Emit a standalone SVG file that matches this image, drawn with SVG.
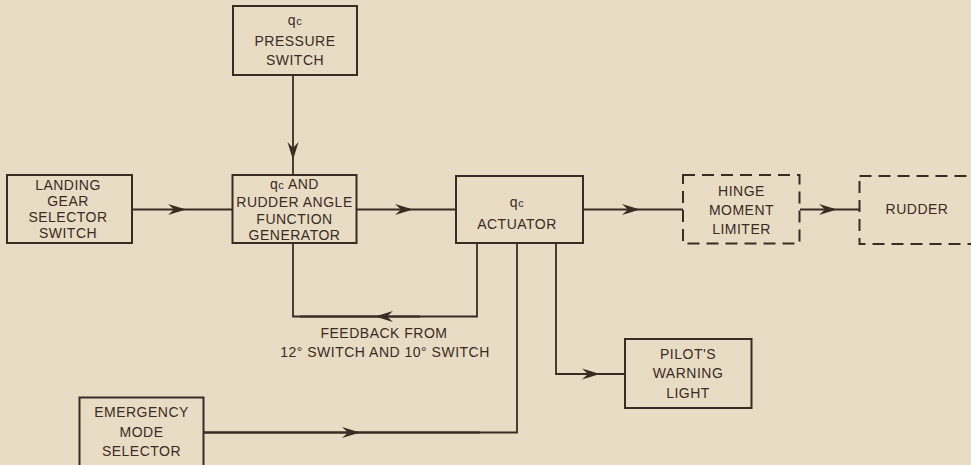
<svg xmlns="http://www.w3.org/2000/svg" width="971" height="465" viewBox="0 0 971 465">
<defs>
<marker id="ah" markerWidth="20" markerHeight="12" viewBox="-19 -6 20 12" refX="0" refY="0" orient="auto" markerUnits="userSpaceOnUse">
<path d="M0,0 L-18,-5.5 L-12,0 L-18,5.5 Z" fill="#3b2b22"/>
</marker>
</defs>
<style>
.box{fill:none;stroke:#3b2b22;stroke-width:2}
.dash{fill:none;stroke:#3b2b22;stroke-width:2;stroke-dasharray:12 7}
.ln{fill:none;stroke:#3b2b22;stroke-width:1.8}
.arr{fill:none;stroke:#3b2b22;stroke-width:1.8;marker-mid:url(#ah)}
text{font-family:"Liberation Sans",Arial,sans-serif;font-size:14px;fill:#3b2b22;text-anchor:middle;letter-spacing:0.5px}
.s{font-size:11px}
</style>
<rect width="971" height="465" fill="#e8dcc5"/>
<g id="connectors">
<path class="arr" d="M293,75 L293,160 L293,175"/>
<path class="arr" d="M132,209.5 L186,209.5 L232,209.5"/>
<path class="arr" d="M357,209.5 L413,209.5 L456,209.5"/>
<path class="arr" d="M583,209.5 L640,209.5 L683,209.5"/>
<path class="arr" d="M800,209.5 L837,209.5 L859,209.5"/>
<polyline class="ln" points="293,243 293,316.5 477,316.5 477,243"/>
<path class="arr" d="M420,316.5 L375,316.5 L300,316.5"/>
<path class="ln" d="M203,432.5 L517,432.5 L517,243"/>
<path class="arr" d="M203,432.5 L360,432.5 L480,432.5"/>
<path class="ln" d="M556,243 L556,374 L625,374"/>
<path class="arr" d="M556,374 L600,374 L625,374"/>
</g>
<g id="pressure-switch">
<rect class="box" x="233" y="6" width="124" height="69"/>
<text x="295" y="25">q<tspan class="s">c</tspan></text>
<text x="295" y="45.5">PRESSURE</text>
<text x="295" y="65">SWITCH</text>
</g>
<g id="landing-gear">
<rect class="box" x="7" y="175" width="125" height="68"/>
<text x="68" y="190">LANDING</text>
<text x="68" y="205.5">GEAR</text>
<text x="68" y="221.5">SELECTOR</text>
<text x="68" y="237.5">SWITCH</text>
</g>
<g id="function-generator">
<rect class="box" x="232.5" y="175" width="124" height="68"/>
<text x="294.5" y="189">q<tspan class="s">c</tspan> AND</text>
<text x="294.5" y="206.5">RUDDER ANGLE</text>
<text x="294.5" y="224">FUNCTION</text>
<text x="294.5" y="239.5">GENERATOR</text>
</g>
<g id="actuator">
<rect class="box" x="456" y="176" width="127" height="67"/>
<text x="517" y="206.5">q<tspan class="s">c</tspan></text>
<text x="517" y="228.5">ACTUATOR</text>
</g>
<g id="hinge-moment-limiter">
<rect class="dash" x="683" y="175" width="116.5" height="68.5"/>
<text x="741.5" y="196">HINGE</text>
<text x="741.5" y="215">MOMENT</text>
<text x="741.5" y="234">LIMITER</text>
</g>
<g id="rudder">
<rect class="dash" x="859.5" y="176" width="140" height="68"/>
<text x="917" y="213.5">RUDDER</text>
</g>
<g id="pilot-warning-light">
<rect class="box" x="625" y="339" width="126.5" height="69"/>
<text x="688" y="359">PILOT'S</text>
<text x="688" y="377.5">WARNING</text>
<text x="688" y="398">LIGHT</text>
</g>
<g id="emergency-mode-selector">
<rect class="box" x="79.5" y="397.5" width="124" height="80"/>
<text x="141.5" y="417">EMERGENCY</text>
<text x="141.5" y="437">MODE</text>
<text x="141.5" y="456">SELECTOR</text>
</g>
<g id="feedback-label">
<text x="384" y="338">FEEDBACK FROM</text>
<text x="385" y="357">12° SWITCH AND 10° SWITCH</text>
</g>
</svg>
